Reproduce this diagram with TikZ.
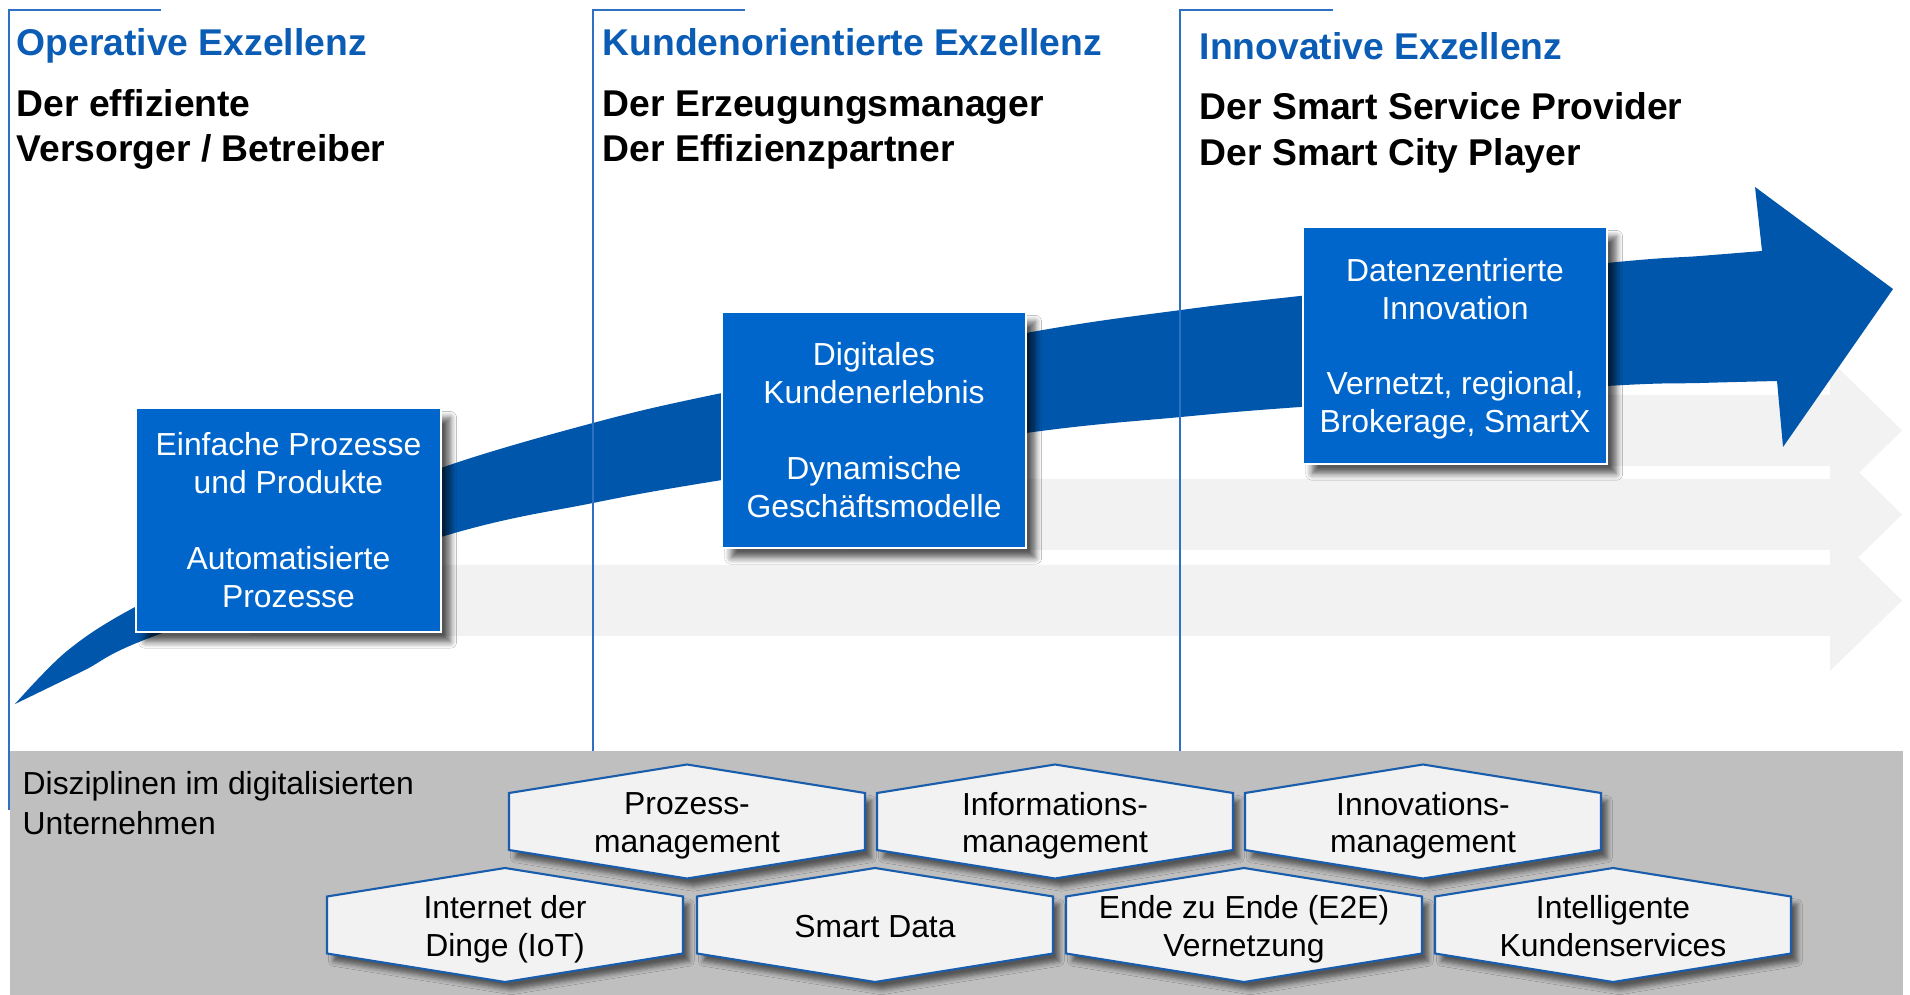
\documentclass[tikz,border=0pt]{standalone}
\usepackage{fontspec}
\setmainfont{Liberation Sans}
\usetikzlibrary{shadows.blur}
\definecolor{arrowblue}{HTML}{0056AB}
\definecolor{boxblue}{HTML}{0066CC}
\definecolor{bandgray}{HTML}{F2F2F2}
\definecolor{basegray}{HTML}{BFBFBF}
\definecolor{lineblue}{HTML}{2F70C4}
\definecolor{titleblue}{HTML}{0A5CB5}
\definecolor{hexblue}{HTML}{1A5DAD}
\definecolor{hexfill}{HTML}{F2F2F2}
\tikzset{
  titletext/.style={font=\fontsize{10.6}{12.8}\selectfont\bfseries, text=titleblue, inner sep=0pt, anchor=base west},
  subtext/.style={font=\fontsize{10.6}{12.8}\selectfont\bfseries, text=black, inner sep=0pt, anchor=base west},
  plaintext/.style={font=\fontsize{9.06}{10.76}\selectfont, text=black, inner sep=0pt, anchor=base west},
  bluebox/.style={fill=boxblue, draw=white, line width=0.6pt, text=white, align=center,
    font=\fontsize{9.06}{10.76}\selectfont, inner sep=0pt, text depth=0pt,
    blur shadow={shadow xshift=2.6pt, shadow yshift=-2.8pt, shadow blur steps=6, shadow blur radius=1.8pt, shadow opacity=65}},
  hexshape/.style={fill=hexfill, draw=hexblue, line width=0.6pt,
    blur shadow={shadow xshift=1.8pt, shadow yshift=-2.2pt, shadow blur steps=5, shadow blur radius=1.4pt, shadow opacity=55}},
  hextext/.style={font=\fontsize{9.06}{10.76}\selectfont, align=center, inner sep=0pt, text=black, text depth=0pt},
  band/.style={fill=bandgray},
  frame/.style={draw=lineblue, line width=0.5pt},
}
\newcommand{\hexcell}[4]{%
  \path[hexshape] (#1-178,#2-28.5) -- (#1,#2-57) -- (#1+178,#2-28.5) -- (#1+178,#2+28.5) -- (#1,#2+57) -- (#1-178,#2+28.5) -- cycle;
  \node[hextext] (#3) at (#1,#2+1) {#4};}
\begin{document}
\begin{tikzpicture}[x=0.01cm, y=-0.01cm]
\fill[white] (0,0) rectangle (1910,995);
\useasboundingbox (0,0) rectangle (1910,995);
% bottom gray area
\fill[basegray] (10,751) rectangle (1903,995);
% light gray background arrows
\fill[band] (1400,395) -- (1830,395) -- (1830,360) -- (1902,430.5) -- (1830,501) -- (1830,466) -- (1400,466) -- cycle;
\fill[band] (850,479) -- (1830,479) -- (1830,444) -- (1902,514.5) -- (1830,585) -- (1830,550) -- (850,550) -- cycle;
\fill[band] (250,565) -- (1830,565) -- (1830,530) -- (1902,600.5) -- (1830,671) -- (1830,636) -- (250,636) -- cycle;
% big blue arrow
\fill[arrowblue] plot[smooth, tension=0.55] coordinates {(15,704) (67,651) (135,607) (290,530) (441,468) (593,423) (722,393) (1026,333) (1181,310) (1300,296) (1607,263) (1700,256) (1762,251)}
  -- (1755,187) -- (1893,289) -- (1783,447)
  -- plot[smooth, tension=0.55] coordinates {(1777,381) (1700,383) (1607,386) (1300,407) (1181,417) (1026,433) (722,480) (593,503) (441,537) (157,635) (83,671) (15,704)} -- cycle;
% column frames
\draw[frame] (161,10) -- (9,10) -- (9,810);
\draw[frame] (745,10) -- (593,10) -- (593,751);
\draw[frame] (1333,10) -- (1180,10) -- (1180,751);
% titles
\node[titletext] (t1) at (16,56) {Operative Exzellenz};
\node[subtext] (s1a) at (16,117) {Der effiziente};
\node[subtext] (s1b) at (16,162) {Versorger / Betreiber};
\node[titletext] (t2) at (602,56) {Kundenorientierte Exzellenz};
\node[subtext] (s2a) at (602,117) {Der Erzeugungsmanager};
\node[subtext] (s2b) at (602,162) {Der Effizienzpartner};
\node[titletext] (t3) at (1199,60) {Innovative Exzellenz};
\node[subtext] (s3a) at (1199,120) {Der Smart Service Provider};
\node[subtext] (s3b) at (1199,166) {Der Smart City Player};
% blue boxes
\node[bluebox, minimum width=3.05cm, minimum height=2.24cm] (b1) at (288.5,520) {Einfache Prozesse\\und Produkte\\[10.76pt]Automatisierte\\Prozesse};
\node[bluebox, minimum width=3.04cm, minimum height=2.36cm] (b2) at (874,430) {Digitales\\Kundenerlebnis\\[10.76pt]Dynamische\\Gesch\"aftsmodelle};
\node[bluebox, minimum width=3.04cm, minimum height=2.37cm] (b3) at (1455,345.5) {Datenzentrierte\\Innovation\\[10.76pt]Vernetzt, regional,\\Brokerage, SmartX};
% bottom label
\node[plaintext] (d1) at (22,794) {Disziplinen im digitalisierten};
\node[plaintext] (d2) at (22,834) {Unternehmen};
% hexagons
\hexcell{687}{821.5}{h1}{Prozess-\\management}
\hexcell{1055}{821.5}{h2}{Informations-\\management}
\hexcell{1423}{821.5}{h3}{Innovations-\\management}
\hexcell{505}{925}{h4}{Internet der\\Dinge (IoT)}
\hexcell{875}{925}{h5}{Smart Data}
\hexcell{1244}{925}{h6}{Ende zu Ende (E2E)\\Vernetzung}
\hexcell{1613}{925}{h7}{Intelligente\\Kundenservices}
\end{tikzpicture}
\end{document}
